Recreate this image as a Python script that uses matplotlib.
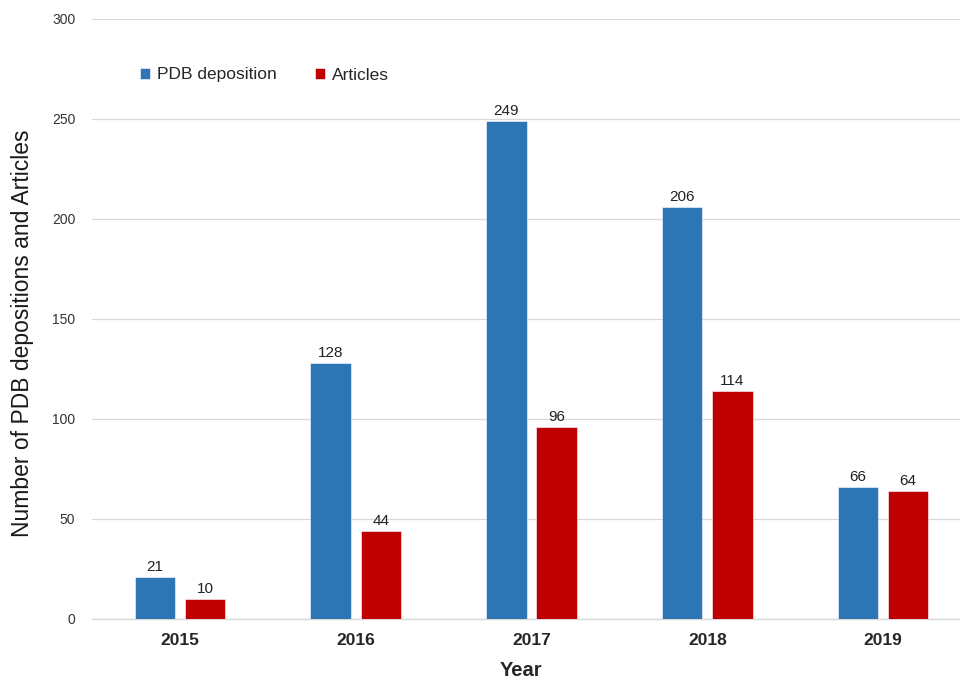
import matplotlib
matplotlib.use("Agg")
import matplotlib.pyplot as plt
import numpy as np

plt.rcParams['font.family'] = ['Liberation Sans', 'DejaVu Sans']

years = ["2015", "2016", "2017", "2018", "2019"]
pdb_depositions = [21, 128, 249, 206, 66]
articles = [10, 44, 96, 114, 64]

blue = "#2E75B6"
red = "#C00000"

W, H = 960, 680
fig = plt.figure(figsize=(W / 100, H / 100), dpi=100)
left, right, top, bottom = 92, 971, 19, 619
ax = fig.add_axes([left / W, 1 - bottom / H, (right - left) / W, (bottom - top) / H])

x = np.arange(len(years))
bw = 0.23
gap = 0.055
off = (bw + gap) / 2
b1 = ax.bar(x - off, pdb_depositions, bw, color=blue, edgecolor="white", linewidth=0.4, label="PDB deposition", zorder=3)
b2 = ax.bar(x + off, articles, bw, color=red, edgecolor="white", linewidth=0.4, label="Articles", zorder=3)

for bars, vals in ((b1, pdb_depositions), (b2, articles)):
    for r, v in zip(bars, vals):
        ax.text(r.get_x() + r.get_width() / 2, v + 1.5, str(v), ha="center", va="bottom",
                fontsize=11, color="#222222")

ax.set_xlim(-0.5, 4.5)
ax.set_ylim(0, 300)
ax.set_yticks(range(0, 301, 50))
ax.set_xticks(x)
ax.set_xticklabels(years, fontsize=12.5, fontweight="bold", color="#262626")
ax.tick_params(axis="y", labelsize=10, colors="#333333", length=0, pad=12)
ax.tick_params(axis="x", length=0, pad=10)
ax.grid(axis="y", color="#D9D9D9", linewidth=0.9, zorder=0)
for s in ("top", "right", "left"):
    ax.spines[s].set_visible(False)
ax.spines["bottom"].set_color("#D9D9D9")
ax.spines["bottom"].set_linewidth(1.0)

fig.text(23 / W, 1 - 333 / H, "Number of PDB depositions and Articles", rotation=90,
         ha="center", va="center", fontsize=16.5, color="#1A1A1A")
fig.text(521 / W, 1 - 670 / H, "Year", ha="center", va="center", fontsize=14.5,
         fontweight="bold", color="#262626")

leg = ax.legend(loc="center left", bbox_to_anchor=(124 / W, 1 - 75 / H), bbox_transform=fig.transFigure,
                ncol=2, frameon=False, fontsize=12.5, handlelength=0.6, handleheight=0.6,
                handletextpad=0.4, columnspacing=2.2)
for t in leg.get_texts():
    t.set_color("#262626")

fig.savefig("out.png", dpi=100)
